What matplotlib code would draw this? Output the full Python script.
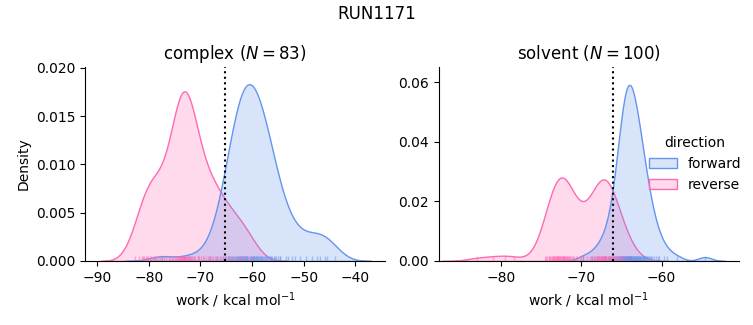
import matplotlib
matplotlib.use("Agg")
import matplotlib.pyplot as plt
import pandas as pd
import seaborn as sns

complex_forward = [
    -60.8, -60.9, -61.0, -61.1, -61.2, -61.3, -61.4, -61.6, -61.7,
    -61.8, -61.9, -62.0, -62.2, -62.3, -62.4, -62.6, -62.7, -62.8, -63.0,
    -63.1, -63.3, -63.5, -63.6, -63.8, -64.0, -64.2, -64.5, -64.7, -65.0,
    -65.3, -65.7, -66.2, -66.9, -68.2,
    -60.4, -60.3, -60.2, -60.0, -59.9, -59.8, -59.7, -59.6, -59.4,
    -59.3, -59.2, -59.0, -58.9, -58.8, -58.6, -58.5, -58.3, -58.2, -58.0,
    -57.8, -57.7, -57.5, -57.3, -57.1, -56.9, -56.6, -56.4, -56.1, -55.8,
    -55.4, -55.0, -54.5,
    -55.6, -54.6, -53.4, -51.7, -50.7, -49.5, -48.5, -47.5, -46.8, -45.9,
    -45.5, -44.0, -56.5, -53.0, -52.3,
    -77.5, -72.0,
]
complex_reverse = [
    -73.25, -73.36, -73.47, -73.59, -73.70, -73.82, -73.95, -74.08, -74.22, -74.37,
    -74.55, -74.75, -75.00, -75.34, -75.97, -73.15, -73.04, -72.93, -72.81, -72.70,
    -72.58, -72.46, -72.32, -72.18, -72.03, -71.85, -71.65, -71.40, -71.06, -70.43,
    -73.20, -73.30,
    -79.2, -79.5, -79.8, -80.1, -80.5, -80.9, -81.3, -81.9, -82.6,
    -78.8, -78.5, -78.2, -77.9, -77.5, -77.1, -76.7, -76.1, -75.4, -74.1,
    -80.3, -79.0, -81.1,
    -68.6, -68.9, -69.2, -69.5, -69.8, -70.2, -70.5, -71.3,
    -72.4, -73.2, -68.4, -68.1, -67.8, -67.5, -67.2, -66.8, -66.5,
    -66.1, -65.7, -65.2, -64.6, -63.8, -62.3,
    -64.5, -63.2, -62.3, -61.4, -60.6, -60.0,
]
solvent_forward = [
    -63.87, -63.90, -63.94, -63.97, -64.01, -64.04, -64.08, -64.11, -64.15, -64.19,
    -64.22, -64.26, -64.29, -64.33, -64.37, -64.41, -64.45, -64.49, -64.53, -64.57,
    -64.61, -64.65, -64.69, -64.74, -64.78, -64.83, -64.88, -64.93, -64.98, -65.03,
    -65.09, -65.15, -65.21, -65.27, -65.34, -65.41, -65.49, -65.58, -65.67, -65.78,
    -65.91, -66.05, -66.24, -66.51, -67.03,
    -63.83, -63.78, -63.74, -63.69, -63.64, -63.60, -63.55, -63.50, -63.46, -63.41,
    -63.36, -63.31, -63.26, -63.21, -63.16, -63.11, -63.06, -63.01, -62.96, -62.91,
    -62.85, -62.79, -62.74, -62.68, -62.62, -62.56, -62.49, -62.43, -62.36, -62.29,
    -62.22, -62.14, -62.06, -61.97, -61.88, -61.79, -61.68, -61.57, -61.44, -61.30,
    -61.14, -60.94, -60.69, -60.34, -59.66,
    -69.8, -68.6, -68.0, -67.5, -67.0, -66.5, -60.5, -59.3, -58.1, -54.6,
]
solvent_reverse = [
    -72.63, -72.70, -72.76, -72.83, -72.90, -72.96, -73.03, -73.10, -73.17, -73.25,
    -73.32, -73.40, -73.48, -73.56, -73.65, -73.74, -73.84, -73.95, -74.06, -74.19,
    -74.34, -74.52, -70.00, -69.80,
    -72.57, -72.50, -72.44, -72.37, -72.30, -72.24, -72.17, -72.10, -72.03, -71.96,
    -71.88, -71.80, -71.72, -71.64, -71.55, -71.46, -71.36, -71.25, -71.14, -71.01,
    -70.86, -70.68, -70.46, -70.16,
    -67.13, -67.19, -67.26, -67.32, -67.39, -67.45, -67.52, -67.58, -67.65, -67.73,
    -67.80, -67.88, -67.96, -68.04, -68.13, -68.23, -68.34, -68.45, -68.59, -68.75,
    -68.95, -69.22, -69.74,
    -67.06, -66.97, -66.89, -66.80, -66.72, -66.63, -66.54, -66.45, -66.35, -66.26,
    -66.16, -66.06, -65.95, -65.83, -65.71, -65.58, -65.44, -65.28, -65.09, -64.88,
    -64.61, -64.24, -63.54, -67.10, -67.00,
    -83.0, -81.0, -79.5, -78.3,
]

run_name = "RUN1171"
phases = ["complex", "solvent"]
directions = ["forward", "reverse"]
free_energy = {"complex": -65.2, "solvent": -66.0}   # dotted lines
palette = {"forward": "cornflowerblue", "reverse": "hotpink"}

rows = []
for phase, direction, vals in [("complex", "forward", complex_forward),
                               ("complex", "reverse", complex_reverse),
                               ("solvent", "forward", solvent_forward),
                               ("solvent", "reverse", solvent_reverse)]:
    for v in vals:
        rows.append((phase, direction, v))
df = pd.DataFrame(rows, columns=["phase", "direction", "work"])

g = sns.displot(df, x="work", hue="direction", col="phase", kind="kde",
                fill=True, rug=True, rug_kws=dict(alpha=0.5, lw=1),
                hue_order=directions, col_order=phases,
                palette=palette, facet_kws=dict(sharex=False, sharey=False),
                height=3, aspect=1.2)

xlims = {"complex": (-92.3, -34.3), "solvent": (-87.7, -50.4)}
ylims = {"complex": (0, 0.0201), "solvent": (0, 0.0652)}
for ax, phase in zip(g.axes.flat, phases):
    n = len(df[(df.phase == phase) & (df.direction == "forward")])
    ax.set_title(f"{phase} ($N = {n}$)", fontsize=12)
    ax.axvline(free_energy[phase], color="k", ls=":", lw=1.5)
    ax.set_xlim(*xlims[phase])
    ax.set_ylim(*ylims[phase])
g.set_axis_labels("work / kcal mol$^{-1}$", "Density")

fig = g.figure
fig.set_size_inches(7.53, 3.25)
fig.subplots_adjust(left=0.113, right=0.981, bottom=0.197, top=0.794, wspace=0.18)
sns.move_legend(g, "upper left", bbox_to_anchor=(0.845, 0.62), frameon=False)
fig.suptitle(run_name, fontsize=12, y=0.985)

fig.savefig("out.png", dpi=100)
